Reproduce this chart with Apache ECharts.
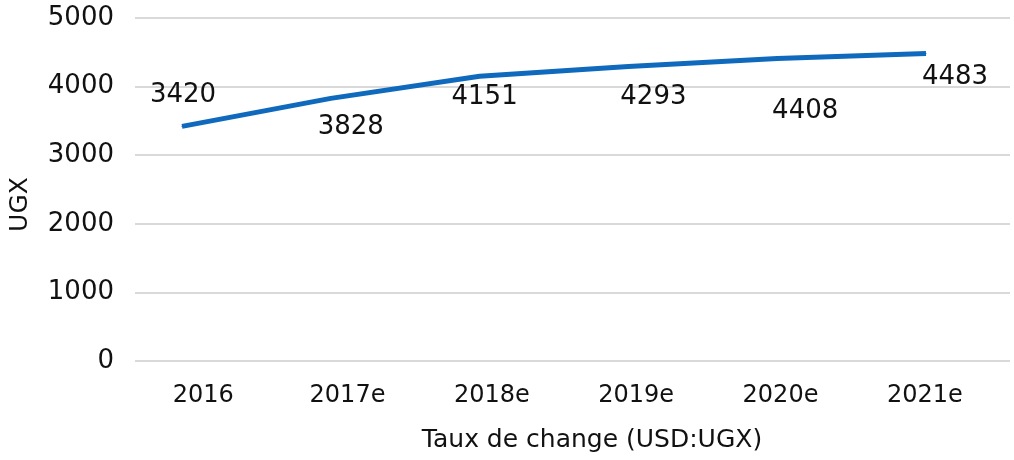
<!DOCTYPE html>
<html>
<head>
<meta charset="utf-8">
<script src="https://cdn.jsdelivr.net/npm/echarts@6/dist/echarts.min.js"></script>
<style>
html,body{margin:0;padding:0;background:#fff;}
#main{width:1014px;height:460px;}
</style>
</head>
<body>
<div id="main"></div>
<script>
var years = ['2016', '2017e', '2018e', '2019e', '2020e', '2021e'];
var rates = [3420, 3828, 4151, 4293, 4408, 4483];
var yTicks = [0, 1000, 2000, 3000, 4000, 5000];
// where each value label sits relative to its point [dx, dy]
var labelOffsets = [[1, -18], [20, 42], [5, 35], [25, 44], [28, 66], [29, 37]];

var chartDom = document.getElementById('main');
var myChart = echarts.init(chartDom);
var font = 'DejaVu Sans';

var lineData = rates.map(function (v, i) {
    return {
        value: v,
        label: {offset: labelOffsets[i]}
    };
});

var option = {
    animation: false,
    grid: [
        {left: 133, right: 4, top: 18, bottom: 99},
        {left: 131, right: 17, top: 18, bottom: 99},
        {left: 182, right: 88, top: 18, bottom: 99}
    ],
    xAxis: [
        {
            gridIndex: 0, type: 'category', data: years,
            axisLine: {show: false}, axisTick: {show: false}, axisLabel: {show: false}
        },
        {
            gridIndex: 1, type: 'category', data: years, boundaryGap: true,
            axisLine: {show: false}, axisTick: {show: false},
            axisLabel: {fontFamily: font, fontSize: 24, color: '#111', margin: 23},
            name: 'Taux de change (USD:UGX)', nameLocation: 'middle', nameGap: 67,
            nameTextStyle: {fontFamily: font, fontSize: 25, color: '#111', padding: [0, 0, 0, 56]}
        },
        {
            gridIndex: 2, type: 'category', data: years, boundaryGap: false, show: false
        }
    ],
    yAxis: [
        {
            gridIndex: 0, type: 'value', min: yTicks[0], max: yTicks[yTicks.length - 1], interval: 1000,
            axisLine: {show: false}, axisTick: {show: false},
            axisLabel: {fontFamily: font, fontSize: 26, color: '#111', margin: 21,
                formatter: function (v) { return String(v); }},
            splitLine: {lineStyle: {color: '#d9d9d9', width: 2}},
            name: 'UGX', nameLocation: 'middle', nameGap: 102, nameRotate: 90,
            nameTextStyle: {fontFamily: font, fontSize: 25, color: '#111', padding: [0, 30, 0, 0]}
        },
        {gridIndex: 1, type: 'value', min: 0, max: 5000, show: false},
        {gridIndex: 2, type: 'value', min: 0, max: 5000, show: false}
    ],
    series: [
        {
            name: 'Taux de change',
            type: 'line',
            xAxisIndex: 2,
            yAxisIndex: 2,
            data: lineData,
            symbol: 'circle',
            symbolSize: 1,
            itemStyle: {color: '#0F6ABD'},
            lineStyle: {color: '#0F6ABD', width: 5},
            label: {
                show: true,
                position: 'top',
                distance: 0,
                fontFamily: font,
                fontSize: 26,
                color: '#111'
            }
        }
    ]
};

option && myChart.setOption(option);
</script>
</body>
</html>
